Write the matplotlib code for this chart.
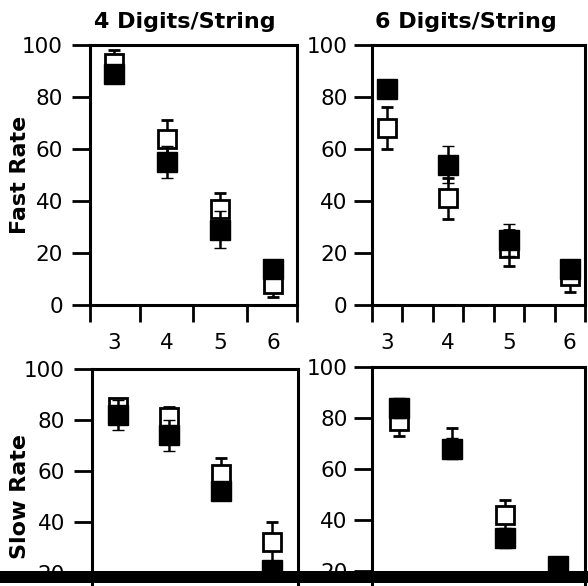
import numpy as np
import matplotlib
matplotlib.use('Agg')
import matplotlib.pyplot as plt
from matplotlib.patches import Rectangle

# --- data ---
categories = [3, 4, 5, 6]

fast4_open = [93, 64, 37, 8]
fast4_open_err = [5, 7, 6, 5]
fast4_filled = [89, 55, 29, 14]
fast4_filled_err = [3, 6, 7, 3]

fast6_open = [68, 41, 22, 11]
fast6_open_err = [8, 8, 7, 6]
fast6_filled = [83, 54, 25, 14]
fast6_filled_err = [3, 7, 6, 3]

slow4_open = [85, 81, 59, 32]
slow4_open_err = [3, 4, 6, 8]
slow4_filled = [82, 74, 52, 21]
slow4_filled_err = [6, 6, 3, 3]

slow6_open = [79, 68, 42, 20]
slow6_open_err_low = [6, 3, 6, 3]
slow6_open_err_high = [6, 8, 6, 3]
slow6_filled = [84, 68, 33, 22]
slow6_filled_err = [4, 4, 4, 3]

plt.rcParams['font.family'] = ['DejaVu Sans']

W, H = 588, 586
fig = plt.figure(figsize=(W / 100, H / 100), dpi=100)


def px_axes(x0, x1, ytop, ybot):
    return fig.add_axes([x0 / W, (H - ybot) / H, (x1 - x0) / W, (ybot - ytop) / H])


def style(ax, xlim, tick_pos, ylab_pad, show_x=True):
    ax.set_xlim(*xlim)
    ax.set_ylim(0, 100)
    for s in ax.spines.values():
        s.set_linewidth(2.2)
    # the bottom row is cut off by the scan below 20
    ax.set_yticks(range(0 if show_x else 20, 101, 20))
    ax.tick_params(axis='y', direction='out', length=13, width=2, labelsize=15.5, pad=ylab_pad)
    ax.set_xticks(categories)
    ax.set_xticks(tick_pos, minor=True)
    ax.tick_params(axis='x', which='major', length=0, labelsize=15.5, pad=20,
                   labelbottom=show_x)
    ax.tick_params(axis='x', which='minor', direction='out', length=12, width=2)


def draw(ax, o, oe, f, fe):
    ax.errorbar(categories, o, yerr=oe, fmt='s', ms=13, mfc='white', mec='black', mew=2,
                ecolor='black', elinewidth=1.8, capsize=4.3, capthick=1.8, zorder=3)
    ax.errorbar(categories, f, yerr=fe, fmt='s', ms=14.5, mfc='black', mec='black', mew=1,
                ecolor='black', elinewidth=1.8, capsize=4.3, capthick=1.8, zorder=4)


# top-left: 4 digits, fast rate
ax = px_axes(90, 297, 45, 305)
style(ax, (2.55, 6.45), [2.55, 3.5, 4.5, 5.5, 6.45], 6.5)
draw(ax, fast4_open, fast4_open_err, fast4_filled, fast4_filled_err)
ax.set_title('4 Digits/String', fontsize=16, fontweight='bold', pad=12, x=0.46)
ax.set_ylabel('Fast Rate', fontsize=16, fontweight='bold')
ax.yaxis.set_label_coords(-0.29, 0.5)

# top-right: 6 digits, fast rate
ax = px_axes(372, 585, 45, 305)
style(ax, (2.75, 6.25), [2.75, 3.25, 3.75, 4.25, 4.75, 5.25, 5.75, 6.25], 4.5)
draw(ax, fast6_open, fast6_open_err, fast6_filled, fast6_filled_err)
ax.set_title('6 Digits/String', fontsize=16, fontweight='bold', pad=12, x=0.44)

# bottom-left: 4 digits, slow rate (lower part cut off in the scan)
ax = px_axes(92, 298, 369, 624)
style(ax, (2.5, 6.5), [2.5, 3.5, 4.5, 5.5, 6.5], 6.5, show_x=False)
draw(ax, slow4_open, slow4_open_err, slow4_filled, slow4_filled_err)
ax.set_ylabel('Slow Rate', fontsize=16, fontweight='bold')
ax.yaxis.set_label_coords(-0.30, 0.5)

# bottom-right: 6 digits, slow rate
ax = px_axes(372, 585, 367, 622)
style(ax, (2.5, 6.5), [2.5, 3.5, 4.5, 5.5, 6.5], 4.5, show_x=False)
draw(ax, slow6_open, [slow6_open_err_low, slow6_open_err_high],
     slow6_filled, slow6_filled_err)

# black scan edge across the bottom
fig.add_artist(Rectangle((0, 3 / H), 1, 12 / H, transform=fig.transFigure,
                         facecolor='black', edgecolor='none', zorder=10))

plt.savefig('out.png', dpi=100)
plt.close()
